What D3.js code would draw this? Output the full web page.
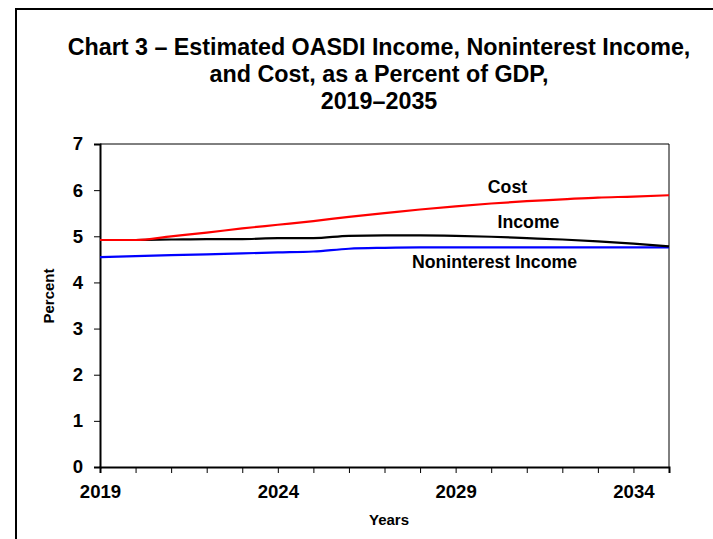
<!DOCTYPE html>
<html><head><meta charset="utf-8">
<script src="https://cdn.jsdelivr.net/npm/d3@7"></script>
<style>body{margin:0;background:#fff;} svg{display:block;font-family:"Liberation Sans",Arial,sans-serif;}</style>
</head><body>
<svg id="c" width="713" height="539"></svg>
<script>
const years = [2019,2020,2021,2022,2023,2024,2025,2026,2027,2028,2029,2030,2031,2032,2033,2034,2035];
const cost = [4.92,4.92,5.00,5.08,5.17,5.25,5.33,5.42,5.50,5.58,5.65,5.71,5.76,5.80,5.84,5.86,5.89];
const income = [4.92,4.92,4.93,4.94,4.94,4.96,4.96,5.01,5.02,5.02,5.01,4.99,4.96,4.93,4.89,4.84,4.78];
const noninterest = [4.55,4.57,4.59,4.61,4.63,4.65,4.67,4.73,4.75,4.76,4.76,4.76,4.76,4.76,4.76,4.76,4.76];
const xTickLabels = [2019,2024,2029,2034];
const yTicks = [0,1,2,3,4,5,6,7];
const titleLines = ["Chart 3 \u2013 Estimated OASDI Income, Noninterest Income,","and Cost, as a Percent of GDP,","2019\u20132035"];

const svg = d3.select("#c");
const L=100,R=669,T=144,B=467;
const x = d3.scaleLinear().domain([2019,2035]).range([L,R]);
const y = d3.scaleLinear().domain([0,7]).range([B,T]);
const FF = "Liberation Sans, Arial, sans-serif";

// frame
svg.append("path").attr("d","M16,539V9H713").attr("fill","none").attr("stroke","#000").attr("stroke-width",2);

// title
svg.append("text").attr("x",379).attr("y",55).attr("text-anchor","middle")
  .attr("font-size",23.3).attr("font-weight","bold")
  .selectAll("tspan").data(titleLines).join("tspan")
  .attr("x",379).attr("dy",(d,i)=>i?27:0).text(d=>d);

// plot box (top/right)
svg.append("path").attr("d",`M${L},${T}H${R}V${B}`).attr("fill","none").attr("stroke","#000").attr("stroke-width",1);

// axes
const yAxis = d3.axisLeft(y).tickValues(yTicks).tickSize(6).tickPadding(11).tickFormat(d3.format("d"));
const gy = svg.append("g").attr("transform",`translate(${L},0)`).call(yAxis);
gy.select(".domain").attr("stroke-width",2);
gy.selectAll("text").attr("font-size",18.6).attr("font-weight","bold").attr("font-family",FF);

const xAxis = d3.axisBottom(x).tickValues(years).tickSize(6).tickFormat(d=>xTickLabels.includes(d)?d:"").tickPadding(12);
const gx = svg.append("g").attr("transform",`translate(0,${B})`).call(xAxis);
gx.select(".domain").attr("stroke-width",2);
gx.selectAll("text").attr("font-size",18.6).attr("font-weight","bold").attr("font-family",FF);

// lines
const line = d3.line().x((d,i)=>x(years[i])).y(d=>y(d)).curve(d3.curveMonotoneX);
[[noninterest,"#0000ff"],[income,"#000000"],[cost,"#ff0000"]].forEach(([s,c])=>{
  svg.append("path").datum(s).attr("d",line).attr("fill","none").attr("stroke",c).attr("stroke-width",2.2);
});

// labels
const lab=(t,xx,yy)=>svg.append("text").attr("x",xx).attr("y",yy).attr("text-anchor","middle").attr("font-size",17.7).attr("font-weight","bold").text(t);
lab("Cost",507.5,193);
lab("Income",528.5,228);
lab("Noninterest Income",494.5,268);

svg.append("text").attr("x",389).attr("y",525).attr("text-anchor","middle").attr("font-size",15).attr("font-weight","bold").text("Years");
svg.append("text").attr("transform","translate(54,296) rotate(-90)").attr("text-anchor","middle").attr("font-size",15).attr("font-weight","bold").text("Percent");
</script>
</body></html>
